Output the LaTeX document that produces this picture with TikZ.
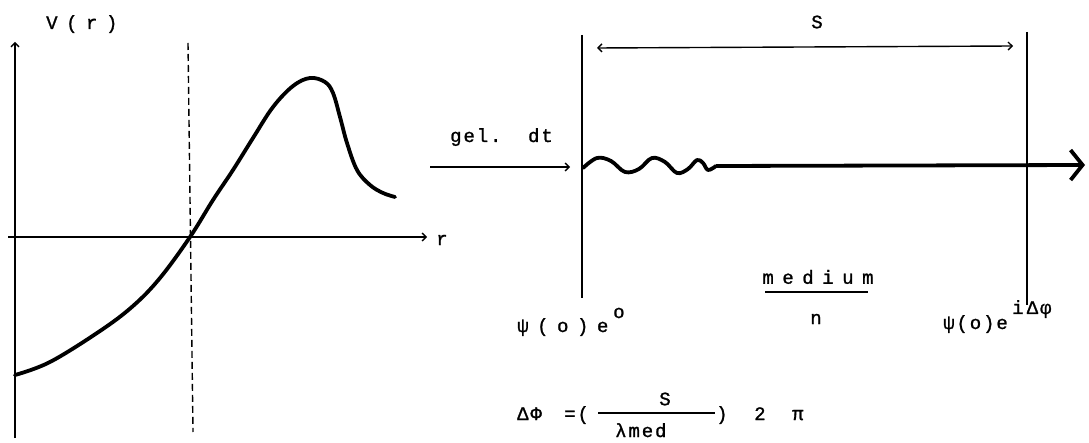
\documentclass[tikz,border=0pt]{standalone}
\usepackage{fontspec}
\setmonofont{Liberation Mono}
\newfontfamily\dotfont[LetterSpace=10,FakeBold=1.2]{Liberation Mono}
\newfontfamily\widefont[LetterSpace=45,FakeBold=1.2]{Liberation Mono}
\usetikzlibrary{arrows.meta}
\begin{document}
\begin{tikzpicture}[x=1pt,y=-1pt,
  ax/.style={line width=1.4pt},
  thinarrow/.style={ax,-{Straight Barb[length=4pt,width=8pt]}},
  lbl/.style={font=\dotfont\fontsize{19}{19}\selectfont, inner sep=0pt},
  wide/.style={font=\widefont\fontsize{19}{19}\selectfont, inner sep=0pt},
  heavy/.style={line width=3.8pt, line cap=round, line join=round}]
\path[use as bounding box] (0,0) rectangle (1089,443);
\clip (0,0) rectangle (1089,443);
% ---------- left panel ----------
\coordinate (vbot) at (15,438);
\coordinate (vtop) at (15,42);
\draw[thinarrow] (vbot) -- (vtop);
\node[wide, anchor=base west] (vlab) at (46,29) {V(r)};
\coordinate (rl) at (8,237);
\coordinate (rr) at (427,237);
\draw[thinarrow] (rl) -- (rr);
\node[lbl] (rlab) at (442,240) {r};
\coordinate (dtop) at (188,43);
\coordinate (dbot) at (193,432);
\draw[ax, dash pattern=on 7pt off 4pt] (dtop) -- (dbot);
\draw[heavy] plot[smooth, tension=0.6] coordinates {
  (15,375) (50,362) (100,331) (133,306) (160,278) (190,237) (213,200)
  (233,170) (253,138) (273,107) (293,86) (310,78) (325,82) (333,93)
  (340,117) (347,143) (357,170) (370,185) (383,193) (395,197)};
% ---------- right panel ----------
\coordinate (L1) at (582,35);
\coordinate (L2) at (582,298);
\coordinate (R1) at (1027,32);
\coordinate (R2) at (1027,305);
\draw[ax] (L1) -- (L2);
\draw[ax] (R1) -- (R2);
\coordinate (sa) at (597,48);
\coordinate (sb) at (1013,46);
\draw[ax,{Straight Barb[length=4pt,width=8pt]}-{Straight Barb[length=4pt,width=8pt]}] (sa) -- (sb);
\node[lbl] (slab) at (817,22) {S};
\node[lbl, anchor=base west] (gel) at (450,142) {gel.\ \ dt};
\coordinate (ina) at (430,167);
\coordinate (inb) at (570,167);
\draw[thinarrow] (ina) -- (inb);
\coordinate (w0) at (583,168);
\coordinate (w1) at (716,166);
\coordinate (tip) at (1085,165);
\draw[heavy] plot[smooth, tension=0.6] coordinates {
  (583,168) (597,158) (611,161) (625,172) (639,169) (652,158) (665,162)
  (677,173) (688,169) (697,160) (703,163) (708,170) (716,166)};
\draw[heavy, line cap=butt, -{Straight Barb[length=12pt,width=30pt]}] (w1) -- (tip);
\node[wide] (med) at (818,277) {medium};
\coordinate (fa) at (765,292);
\coordinate (fb) at (868,292);
\draw[ax] (fa) -- (fb);
\node[lbl] (nlab) at (816,319) {n};
\node[lbl, anchor=base west] (psiR) at (943,329) {ψ(o)e};
\node[lbl, anchor=base west] (expR) at (1012,314) {i\,Δφ};
\node[wide, anchor=base west] (psiL) at (517,332) {ψ(o)e};
\node[lbl, anchor=base west] (expL) at (613,318) {o};
\node[lbl, anchor=base west] (dphi) at (517,420) {ΔΦ};
\node[lbl, anchor=base west] (eq) at (564,420) {=(};
\coordinate (ga) at (598,413);
\coordinate (gb) at (715,413);
\draw[ax] (ga) -- (gb);
\node[lbl] (snum) at (665,399) {S};
\node[lbl, anchor=base west] (lam) at (615,437) {λmed};
\node[lbl, anchor=base west] (rest) at (716,420) {)\ \ 2\ \ π};
\end{tikzpicture}
\end{document}
